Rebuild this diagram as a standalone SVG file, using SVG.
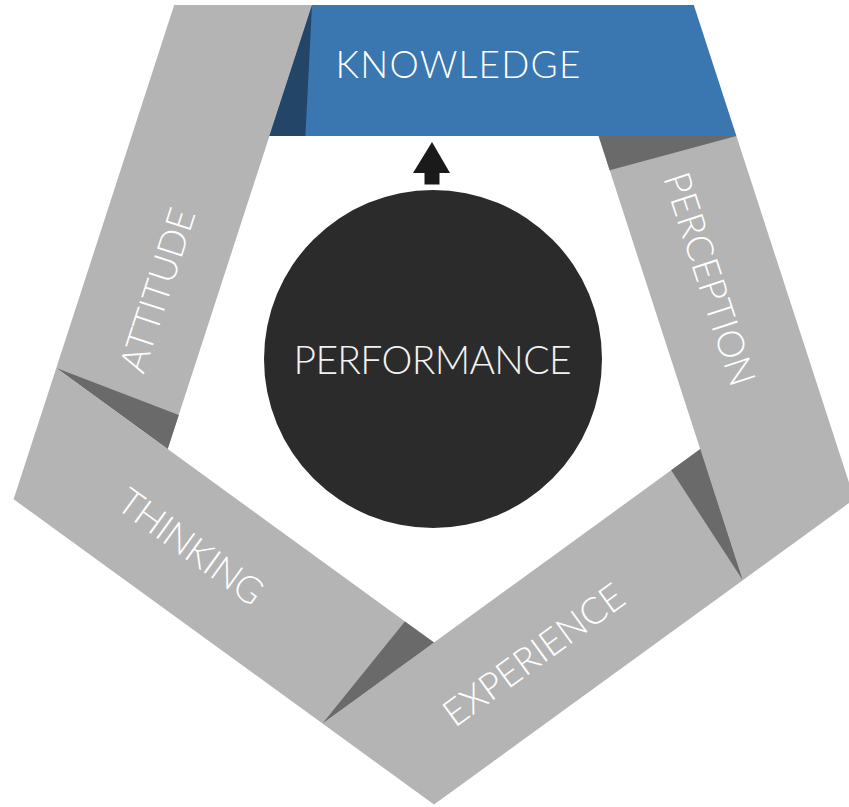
<svg xmlns="http://www.w3.org/2000/svg" width="849" height="807" viewBox="0 0 849 807">
<style>
.band{fill:#b4b4b4}
.shadow{fill:#6a6a6a}
.lbl{font-family:Lato,"Open Sans","Liberation Sans",sans-serif;font-weight:300;font-size:37px;fill:#ffffff;text-anchor:middle}
</style>
<rect width="849" height="807" fill="#ffffff"/>
<g id="attitude">
<polygon class="band" points="56.3,368.1 174.2,5 312,5 167.7,449.1"/>
<polygon class="shadow" points="56.3,368.1 167.7,449.1 178.8,414.9"/>
<text class="lbl" transform="translate(157,290) rotate(-72)" x="0" y="13.3" textLength="170" lengthAdjust="spacing">ATTITUDE</text>
</g>
<g id="knowledge">
<polygon fill="#3a76af" points="312,5 693.8,5 736.4,136.1 269.4,136.1"/>
<polygon fill="#234668" points="312,5 269.4,136.1 305.4,136.1"/>
<text class="lbl" x="458" y="78.3" textLength="245" lengthAdjust="spacing">KNOWLEDGE</text>
</g>
<g id="perception">
<polygon class="band" points="736.4,136.1 854.4,499.2 742.8,580.2 598.6,136.1"/>
<polygon class="shadow" points="736.4,136.1 598.6,136.1 609.7,170.3"/>
<text class="lbl" transform="translate(710,279) rotate(72)" x="0" y="13.3" textLength="222" lengthAdjust="spacing">PERCEPTION</text>
</g>
<g id="experience">
<polygon class="band" points="742.8,580.2 434,804.6 322.5,723.5 700.3,449.1"/>
<polygon class="shadow" points="742.8,580.2 700.3,449.1 671.2,470.3"/>
<text class="lbl" transform="translate(533.5,654.5) rotate(-36)" x="0" y="13.3" textLength="214" lengthAdjust="spacing">EXPERIENCE</text>
</g>
<g id="thinking">
<polygon class="band" points="322.5,723.5 13.6,499.2 56.3,368.1 434,642.6"/>
<polygon class="shadow" points="322.5,723.5 434,642.6 404.9,621.5"/>
<text class="lbl" transform="translate(191,546.5) rotate(36)" x="0" y="13.3" textLength="170" lengthAdjust="spacing">THINKING</text>
</g>
<g id="performance">
<circle cx="433" cy="359" r="169" fill="#2b2b2b"/>
<text class="lbl" x="432.5" y="374" style="font-size:39px;fill:#f2f2f2" textLength="278" lengthAdjust="spacing">PERFORMANCE</text>
</g>
<g id="connectors">
<polygon fill="#1a1a1a" points="432,142 450,173 439.5,173 439.5,184.5 424.5,184.5 424.5,173 413,173"/>
</g>
</svg>
